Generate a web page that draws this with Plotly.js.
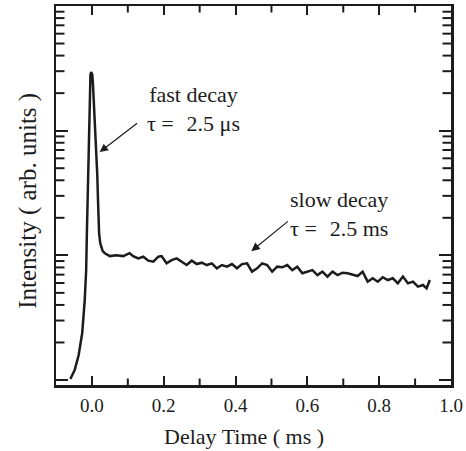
<!DOCTYPE html>
<html>
<head>
<meta charset="utf-8">
<script src="https://cdn.plot.ly/plotly-3.0.1.min.js"></script>
<style>html,body{margin:0;padding:0;background:#fff;}#chart{width:466px;height:451px;}</style>
</head>
<body>
<div id="chart"></div>
<script>
// Delay time (ms)
var delayTime = [
  -0.060, -0.048, -0.037, -0.027, -0.020, -0.016, -0.014, -0.011, -0.008, -0.006,
  -0.004, -0.002, 0.001, 0.003, 0.006, 0.009, 0.012, 0.015, 0.017, 0.020,
  0.023, 0.026, 0.030,
  0.036, 0.050, 0.068, 0.087, 0.105, 0.115, 0.129, 0.143, 0.157, 0.171,
  0.185, 0.194, 0.208, 0.222, 0.236, 0.250, 0.264, 0.278, 0.292, 0.306,
  0.320, 0.334, 0.348, 0.362, 0.376, 0.390, 0.404, 0.418, 0.432, 0.446,
  0.460, 0.474, 0.488, 0.502, 0.516, 0.530, 0.544, 0.558, 0.572, 0.586,
  0.600, 0.614, 0.628, 0.642, 0.656, 0.670, 0.684, 0.698, 0.712, 0.726,
  0.740, 0.754, 0.768, 0.782, 0.796, 0.810, 0.824, 0.838, 0.852, 0.866,
  0.880, 0.894, 0.908, 0.922, 0.932, 0.941
];
// Intensity (arb. units)
var intensity = [
  1.02, 1.2, 1.58, 2.38, 4.37, 7.6, 15.1, 39.8, 95.5, 214,
  282, 295, 282, 234, 162, 100, 69, 43.7, 27.5, 15.1,
  12.6, 11.5, 10.8,
  10.4, 9.86, 10.0, 9.86, 10.4, 9.86, 9.46, 9.75, 9.06, 8.89,
  9.75, 9.86, 8.63, 9.16, 9.46, 8.89, 8.36, 9.06, 8.51, 8.73,
  8.36, 8.63, 7.87, 8.36, 8.11, 8.51, 7.87, 8.51, 8.63, 7.40,
  7.87, 8.63, 8.36, 7.40, 8.11, 8.02, 8.36, 7.62, 8.11, 7.18,
  7.40, 7.62, 6.95, 7.40, 6.75, 7.40, 6.95, 7.26, 7.18, 6.95,
  6.82, 7.40, 6.15, 6.55, 6.15, 6.67, 6.34, 6.55, 5.96, 6.75,
  5.96, 6.15, 5.61, 5.78, 5.43, 6.34
];
var xTickVals = [0.0, 0.2, 0.4, 0.6, 0.8, 1.0];
var xTickText = ["0.0", "0.2", "0.4", "0.6", "0.8", "1.0"];
var xMinorVals = [0.1, 0.3, 0.5, 0.7, 0.9];
var yDecades = [1, 10, 100, 1000];
var yMinorDigits = [2, 3, 4, 5, 6, 7, 8, 9];

var xTitle = "Delay Time ( ms )";
var yTitle = "Intensity ( arb. units )";
var fastLabel = "fast decay<br>\u03c4 =\u00a0\u00a0\u200a2.5 \u03bcs";
var slowLabel = "slow decay<br>\u03c4 =\u00a0\u00a0\u200a2.5 ms";
// arrow tips [x, intensity]
var fastTip = [0.0215, 67.3];
var slowTip = [0.444, 10.8];
var fastText = [0.283, 150];
var slowText = [0.688, 21.4];

var ink = "#1c1c1c";
var serif = "Liberation Serif, Times New Roman, serif";

var W = 466, H = 451;
var M = {l: 56, r: 15, t: 6, b: 66};
var plotW = W - M.l - M.r, plotH = H - M.t - M.b;
var xRange = [-0.1, 1.0];
var yRange = [-0.04, 3.0];

var yMinorVals = [];
yDecades.slice(0, 3).forEach(function (d) {
  yMinorDigits.forEach(function (m) { yMinorVals.push(d * m); });
});

var trace = {
  x: delayTime, y: intensity, type: "scatter", mode: "lines",
  line: {color: ink, width: 2.5}, hoverinfo: "skip"
};

// minor tick marks (inside, on all four sides)
var decPerPx = (yRange[1] - yRange[0]) / plotH;
var xMinorLenDec = 6.5 * decPerPx;
var yMinorLen = 8.5 / plotW;
var shapes = [];
xMinorVals.forEach(function (v) {
  [[yRange[0], yRange[0] + xMinorLenDec], [yRange[1], yRange[1] - xMinorLenDec]].forEach(function (s) {
    shapes.push({type: "line", xref: "x", yref: "y", x0: v, x1: v,
      y0: Math.pow(10, s[0]), y1: Math.pow(10, s[1]),
      line: {color: ink, width: 2}});
  });
});
yMinorVals.forEach(function (v) {
  [[0, yMinorLen], [1, 1 - yMinorLen]].forEach(function (s) {
    shapes.push({type: "line", xref: "paper", yref: "y", y0: v, y1: v,
      x0: s[0], x1: s[1], line: {color: ink, width: 2}});
  });
});

function arrow(tip, ax, ay) {
  return {x: tip[0], y: Math.log10(tip[1]), xref: "x", yref: "y",
    text: "", showarrow: true, ax: ax, ay: ay, axref: "pixel", ayref: "pixel",
    arrowhead: 2, arrowsize: 1.4, arrowwidth: 1.2, arrowcolor: ink, standoff: 0, startstandoff: 0};
}
function label(pos, txt) {
  return {x: pos[0], y: Math.log10(pos[1]), xref: "x", yref: "y", text: txt,
    showarrow: false, xanchor: "center", yanchor: "middle", align: "center",
    font: {family: serif, size: 22, color: ink}};
}

var layout = {
  width: W, height: H,
  margin: M,
  paper_bgcolor: "#fff", plot_bgcolor: "#fff",
  showlegend: false,
  font: {family: serif, color: ink},
  xaxis: {
    range: xRange, tickvals: xTickVals, ticktext: xTickText,
    ticks: "inside", ticklen: 9, tickwidth: 2, tickcolor: ink,
    showline: true, linewidth: 2.5, linecolor: ink, mirror: "ticks",
    showgrid: false, zeroline: false,
    tickfont: {family: serif, size: 19, color: ink},
    ticklabelstandoff: 2
  },
  yaxis: {
    type: "log", range: yRange, tickvals: yDecades,
    ticks: "inside", ticklen: 12, tickwidth: 2, tickcolor: ink,
    showline: true, linewidth: 2.5, linecolor: ink, mirror: "ticks",
    showgrid: false, zeroline: false, showticklabels: false
  },
  shapes: shapes,
  annotations: [
    arrow(fastTip, 39, -30),
    arrow(slowTip, 38, -31),
    label(fastText, fastLabel),
    label(slowText, slowLabel),
    {x: 0.475, y: -0.137, xref: "paper", yref: "paper", text: xTitle, showarrow: false,
     xanchor: "center", yanchor: "middle", font: {family: serif, size: 22, color: ink}},
    {x: -0.071, y: 0.486, xref: "paper", yref: "paper", text: yTitle, showarrow: false,
     textangle: -90, xanchor: "center", yanchor: "middle", font: {family: serif, size: 25, color: ink}}
  ]
};

Plotly.newPlot("chart", [trace], layout, {displayModeBar: false, staticPlot: true});
</script>
</body>
</html>
